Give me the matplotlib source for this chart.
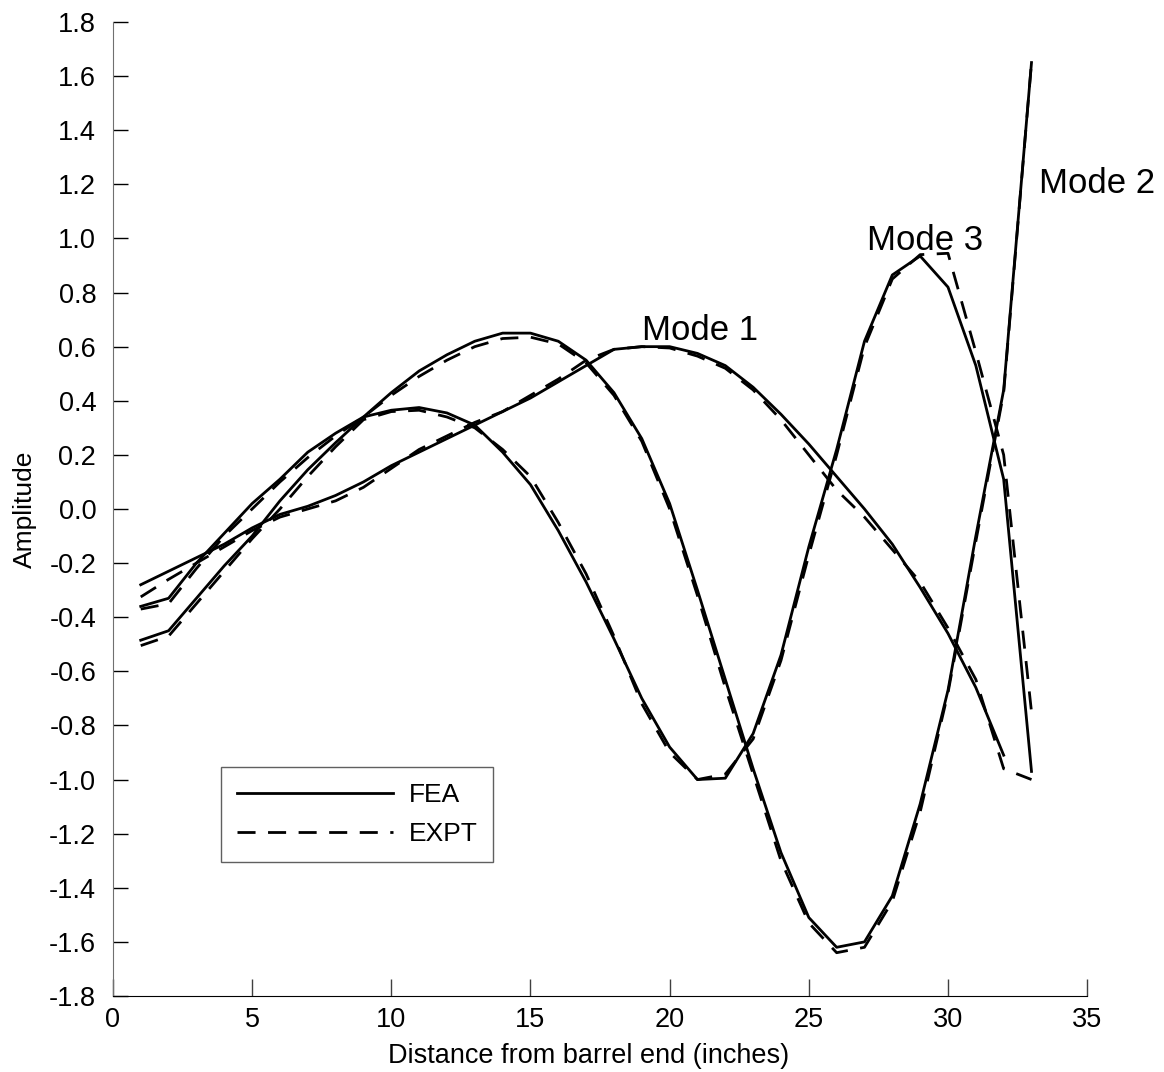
import matplotlib
matplotlib.use("Agg")
import matplotlib.pyplot as plt

plt.rcParams['font.family'] = ['Liberation Sans', 'DejaVu Sans']
plt.rcParams['axes.unicode_minus'] = False

# positions along barrel (inches)
x32 = list(range(1, 33))
x33 = list(range(1, 34))

# mode shapes
mode1_fea = [-0.28, -0.23, -0.18, -0.13, -0.07, -0.02, 0.01, 0.05, 0.10, 0.16,
             0.21, 0.26, 0.31, 0.36, 0.41, 0.47, 0.53, 0.59, 0.60, 0.60,
             0.575, 0.53, 0.45, 0.35, 0.24, 0.12, 0.00, -0.13, -0.29, -0.46,
             -0.66, -0.91]
mode1_expt = [-0.325, -0.26, -0.20, -0.14, -0.08, -0.03, 0.00, 0.03, 0.08, 0.15,
              0.22, 0.27, 0.32, 0.36, 0.42, 0.48, 0.55, 0.59, 0.60, 0.595,
              0.565, 0.52, 0.44, 0.33, 0.20, 0.07, -0.03, -0.15, -0.27, -0.44,
              -0.63, -0.96, -1.00]
mode2_fea = [-0.36, -0.33, -0.20, -0.09, 0.02, 0.11, 0.21, 0.28, 0.34, 0.43,
             0.51, 0.57, 0.62, 0.65, 0.65, 0.62, 0.55, 0.43, 0.26, 0.02,
             -0.30, -0.63, -0.96, -1.27, -1.51, -1.62, -1.60, -1.43, -1.09, -0.67,
             -0.10, 0.44, 1.65]
mode2_expt = [-0.37, -0.35, -0.22, -0.10, 0.00, 0.10, 0.19, 0.27, 0.34, 0.42,
              0.49, 0.55, 0.60, 0.63, 0.635, 0.61, 0.54, 0.42, 0.25, 0.00,
              -0.32, -0.66, -0.98, -1.30, -1.53, -1.64, -1.62, -1.45, -1.12, -0.68,
              -0.12, 0.43, 1.65]
mode3_fea = [-0.485, -0.45, -0.33, -0.21, -0.10, 0.03, 0.145, 0.245, 0.34, 0.365,
             0.375, 0.355, 0.31, 0.21, 0.09, -0.08, -0.27, -0.48, -0.70, -0.88,
             -1.00, -0.995, -0.83, -0.54, -0.14, 0.22, 0.62, 0.865, 0.935, 0.82,
             0.53, 0.11, -0.97]
mode3_expt = [-0.505, -0.47, -0.35, -0.23, -0.11, 0.00, 0.12, 0.23, 0.33, 0.36,
              0.365, 0.34, 0.30, 0.22, 0.12, -0.05, -0.24, -0.47, -0.72, -0.90,
              -1.00, -0.98, -0.85, -0.56, -0.17, 0.20, 0.60, 0.85, 0.94, 0.945,
              0.58, 0.20, -0.75]

xticks = [0, 5, 10, 15, 20, 25, 30, 35]
yticks = [-1.8, -1.6, -1.4, -1.2, -1.0, -0.8, -0.6, -0.4, -0.2, 0.0,
          0.2, 0.4, 0.6, 0.8, 1.0, 1.2, 1.4, 1.6, 1.8]

fig = plt.figure(figsize=(11.64, 10.72), dpi=100)
ax = fig.add_axes([0.097, 0.0709, 0.837, 0.9086])

lw = 2.0
dash = (0, (6.5, 4.5))
ax.plot(x32, mode1_fea, color='black', lw=lw, label='FEA')
ax.plot(x33, mode1_expt, color='black', lw=lw, linestyle=dash, label='EXPT')
ax.plot(x33, mode2_fea, color='black', lw=lw)
ax.plot(x33, mode2_expt, color='black', lw=lw, linestyle=dash)
ax.plot(x33, mode3_fea, color='black', lw=lw)
ax.plot(x33, mode3_expt, color='black', lw=lw, linestyle=dash)

ax.text(19.0, 0.625, 'Mode 1', fontsize=25, ha='left', va='baseline')
ax.text(27.1, 0.957, 'Mode 3', fontsize=25, ha='left', va='baseline')
ax.text(33.27, 1.168, 'Mode 2', fontsize=25, ha='left', va='baseline')

ax.set_xlim(0, 35)
ax.set_ylim(-1.8, 1.8)
ax.set_xticks(xticks)
ax.set_yticks(yticks)
ax.set_yticklabels(['%.1f' % v for v in yticks])

for s in ['top', 'right']:
    ax.spines[s].set_visible(False)
ax.spines['left'].set_color('#707070')
ax.spines['bottom'].set_color('black')
ax.tick_params(axis='y', direction='in', length=11, width=1, pad=12, labelsize=19.5)
ax.tick_params(axis='x', direction='in', length=12, width=1, pad=8, labelsize=19.5,
               color='#404040')

ax.set_xlabel('Distance from barrel end (inches)', fontsize=19.5)
ax.xaxis.set_label_coords(0.488, -0.048)
ax.set_ylabel('Amplitude', fontsize=19, labelpad=9)

leg = ax.legend(loc='lower left', bbox_to_anchor=(0.111, 0.138), borderaxespad=0,
                fontsize=19, handlelength=5.9, fancybox=False, framealpha=1,
                edgecolor='#606060', borderpad=0.6, labelspacing=0.55,
                handletextpad=0.6)
leg.get_frame().set_linewidth(1.0)

fig.savefig('out.png', dpi=100)
